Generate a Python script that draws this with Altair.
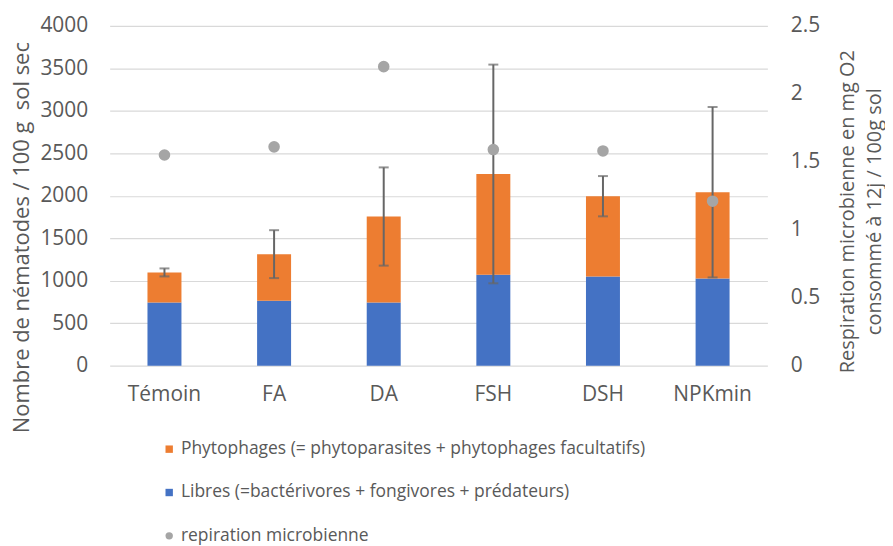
import altair as alt
import pandas as pd

categories = ["Témoin", "FA", "DA", "FSH", "DSH", "NPKmin"]
libres = [745, 764, 745, 1070, 1051, 1027]
phytophages = [353, 549, 1011, 1187, 944, 1015]
erreur = [47, 282, 578, 1287, 237, 1003]
respiration = [1.55, 1.61, 2.20, 1.59, 1.58, 1.21]

lab_phyto = "Phytophages (= phytoparasites + phytophages facultatifs)"
lab_libres = "Libres (=bactérivores + fongivores + prédateurs)"
lab_resp = "repiration microbienne"

FONT = "Open Sans"
TXT = "#595959"
FS = 21

rows = []
for c, l, p in zip(categories, libres, phytophages):
    rows.append({"cat": c, "type": lab_libres, "val": l, "ord": 0})
    rows.append({"cat": c, "type": lab_phyto, "val": p, "ord": 1})
bars_df = pd.DataFrame(rows)

err_df = pd.DataFrame({
    "cat": categories,
    "lo": [l + p - e for l, p, e in zip(libres, phytophages, erreur)],
    "hi": [l + p + e for l, p, e in zip(libres, phytophages, erreur)],
})

resp_df = pd.DataFrame({"cat": categories, "resp": respiration, "type": [lab_resp] * len(categories)})

xscale = alt.Scale(domain=categories, paddingInner=0.69, paddingOuter=0.345)
xenc = alt.X("cat:N", scale=xscale, sort=categories,
             axis=alt.Axis(title=None, labelAngle=0, domain=False, ticks=False,
                           labelPadding=18, labelFontSize=FS, labelColor=TXT, labelFont=FONT))

legend_domain = [lab_phyto, lab_libres, lab_resp]
color_scale = alt.Scale(domain=legend_domain, range=["#ED7D31", "#4472C4", "#A5A5A5"])
shape_scale = alt.Scale(domain=legend_domain, range=["square", "square", "circle"])
legend = alt.Legend(title=None, orient="none", legendX=51, legendY=416, direction="vertical",
                    labelFontSize=17.5, labelColor=TXT, labelFont=FONT, symbolSize=55,
                    rowPadding=24.5, labelOffset=3, symbolStrokeWidth=0, labelLimit=700)

yscale = alt.Scale(domain=[0, 4000], nice=False)
left_axis = alt.Axis(title="Nombre de nématodes / 100 g\u00a0 sol sec",
                     values=[0, 500, 1000, 1500, 2000, 2500, 3000, 3500, 4000],
                     format="d", grid=True, gridColor="#D9D9D9", gridWidth=1.2,
                     domain=False, ticks=False, labelPadding=22,
                     labelFontSize=FS, labelColor=TXT, labelFont=FONT,
                     titleFontSize=22, titleColor=TXT, titleFont=FONT, titleFontWeight="normal",
                     titleAngle=270, titleX=-88, titleY=212, titleAlign="center",
                     titleBaseline="middle")

bars = alt.Chart(bars_df).mark_bar().encode(
    x=xenc,
    y=alt.Y("val:Q", stack="zero", scale=yscale, axis=left_axis),
    color=alt.Color("type:N", scale=color_scale, legend=legend),
    order=alt.Order("ord:Q"),
)

rule = alt.Chart(err_df).mark_rule(color="#666666", strokeWidth=2).encode(
    x=xenc, y=alt.Y("lo:Q", scale=yscale, axis=left_axis), y2="hi:Q")
caps_lo = alt.Chart(err_df).mark_tick(color="#666666", thickness=2, size=10).encode(
    x=xenc, y=alt.Y("lo:Q", scale=yscale, axis=left_axis))
caps_hi = alt.Chart(err_df).mark_tick(color="#666666", thickness=2, size=10).encode(
    x=xenc, y=alt.Y("hi:Q", scale=yscale, axis=left_axis))

left = alt.layer(bars, rule, caps_lo, caps_hi)

points = alt.Chart(resp_df).mark_point(filled=True, size=135, opacity=1).encode(
    x=xenc,
    y=alt.Y("resp:Q", scale=alt.Scale(domain=[0, 2.5], nice=False),
            axis=alt.Axis(orient="right",
                          title=["Respiration microbienne en mg O2", "consommé à 12j / 100g sol"],
                          values=[0, 0.5, 1, 1.5, 2, 2.5], format="~g", grid=False,
                          domain=False, ticks=False, labelPadding=23, labelAlign="left",
                          labelFontSize=FS, labelColor=TXT, labelFont=FONT,
                          titleFontSize=20, titleColor=TXT, titleFont=FONT, titleFontWeight="normal",
                          titleAngle=270, titleX=80, titleY=186, titleAlign="center",
                          titleBaseline="middle", titleLineHeight=28)),
    color=alt.Color("type:N", scale=color_scale, legend=legend),
    shape=alt.Shape("type:N", scale=shape_scale, legend=legend),
)

chart = alt.layer(left, points).resolve_scale(y="independent").properties(
    width=660, height=341,
    autosize=alt.AutoSizeParams(type="none"),
    padding={"left": 102, "top": 17, "right": 118, "bottom": 180},
    background="white",
).configure_view(stroke=None)

chart.save("out.html", embed_options={"renderer": "svg", "actions": False})
